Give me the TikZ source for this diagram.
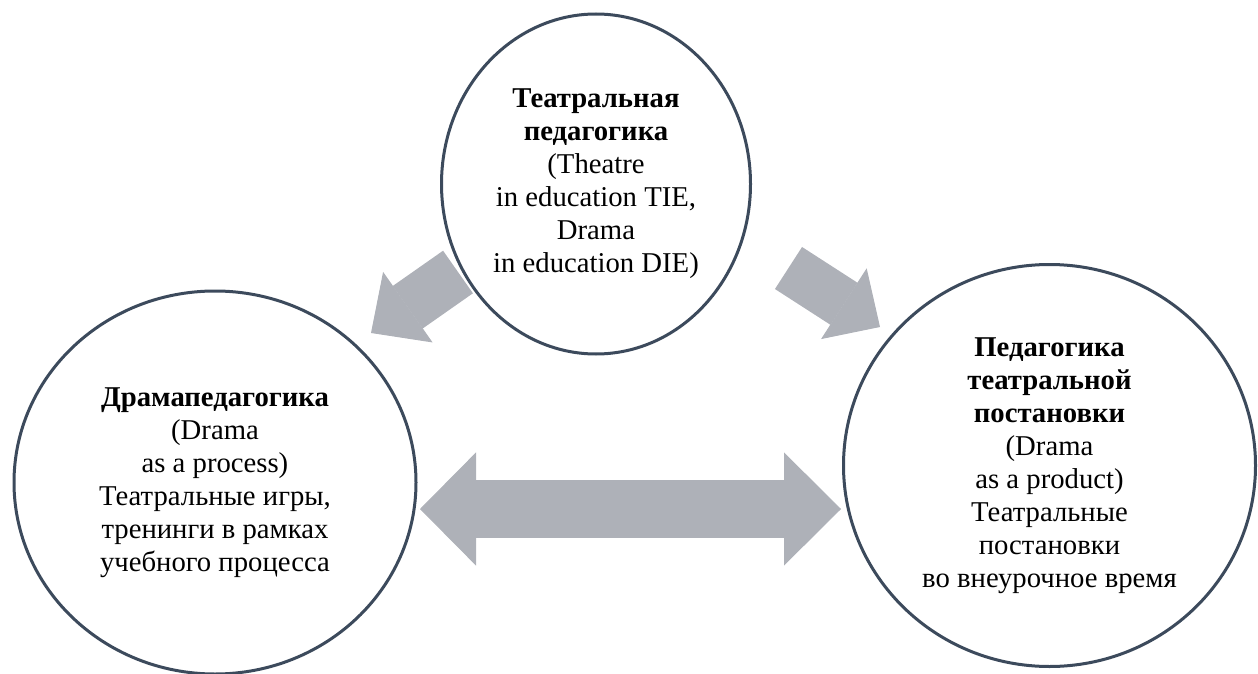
\documentclass[tikz,border=0pt]{standalone}
\usepackage{fontspec}
\setmainfont{Liberation Serif}
\usetikzlibrary{shapes.geometric,arrows.meta,positioning}
\definecolor{ringline}{HTML}{3C4A5C}
\definecolor{arrowgray}{HTML}{AEB1B8}

\begin{document}
\begin{tikzpicture}[x=1pt,y=-1pt,
  ring/.style={ellipse,draw=ringline,line width=3pt,inner sep=0pt,align=center,
    font=\fontsize{28.7}{33}\selectfont},
  blockarrow/.style={draw=arrowgray,line width=52pt}]
\useasboundingbox (0,0) rectangle (1258,674);
% the three fields
\node[ring,minimum width=309pt,minimum height=340pt] (tp) at (596,184)
  {\textbf{Театральная}\\\textbf{педагогика}\\(Theatre\\in education TIE,\\Drama\\in education DIE)};
\node[ring,minimum width=402pt,minimum height=383pt] (dp) at (215,482.5)
  {\textbf{Драмапедагогика}\\(Drama\\as a process)\\Театральные игры,\\тренинги в рамках\\учебного процесса};
\node[ring,minimum width=412pt,minimum height=402pt] (pp) at (1049.5,465.5)
  {\textbf{Педагогика}\\\textbf{театральной}\\\textbf{постановки}\\(Drama\\as a product)\\Театральные\\постановки\\во внеурочное время};
% arrow ends
\coordinate (tpleft) at (458,272);
\coordinate (dptop) at (371,333);
\coordinate (tpright) at (788.5,268);
\coordinate (pptop) at (880,327);
\coordinate (dpright) at (420,509);
\coordinate (ppleft) at (841,509);
\draw[blockarrow,-{Triangle[width=86pt,length=45pt,line width=1pt]}] (tpleft) -- (dptop);
\draw[blockarrow,line width=50pt,-{Triangle[width=84pt,length=43pt,line width=1pt]}] (tpright) -- (pptop);
\draw[blockarrow,line width=58pt,{Triangle[width=113pt,length=56pt,line width=1pt]}-{Triangle[width=113pt,length=57pt,line width=1pt]}] (dpright) -- (ppleft);
\end{tikzpicture}
\end{document}
